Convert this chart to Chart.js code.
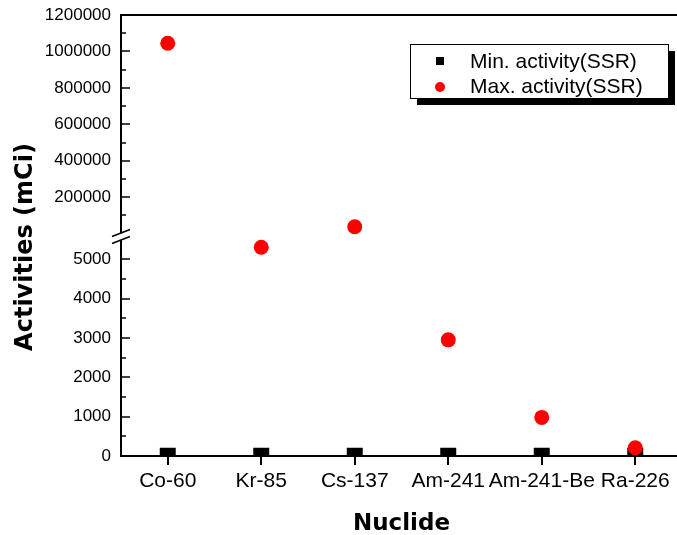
<!DOCTYPE html>
<html>
<head>
<meta charset="utf-8">
<title>Activities by nuclide</title>
<script src="https://cdn.jsdelivr.net/npm/chart.js@4/dist/chart.umd.min.js"></script>
<style>
    html, body { margin: 0; padding: 0; background: #fff; overflow: hidden; }
    #wrap { width: 700px; height: 535px; }
</style>
</head>
<body>
<div id="wrap"><canvas id="activityChart" width="700" height="535"></canvas></div>
<script>
// ==================== DATA ====================
const nuclides = ['Co-60', 'Kr-85', 'Cs-137', 'Am-241', 'Am-241-Be', 'Ra-226'];
const minActivity = [5, 5, 5, 5, 5, 5];
const maxActivity = [1045000, 5300, 38000, 2950, 980, 210];

// broken y axis: lower part 0..5600, upper part up to 1.2 million
const lowerMax = 5600;
const upperMin = -10000;
const upperMax = 1200000;
const lowerTicks = [0, 1000, 2000, 3000, 4000, 5000];
const lowerMinorTicks = [500, 1500, 2500, 3500, 4500];
const upperTicks = [200000, 400000, 600000, 800000, 1000000, 1200000];
const upperMinorTicks = [100000, 300000, 500000, 700000, 900000, 1100000];

const legendLabels = ['Min. activity(SSR)', 'Max. activity(SSR)'];

// split max series between the two axis parts
const maxLow = maxActivity.map(v => v <= lowerMax ? v : null);
const maxHigh = maxActivity.map(v => v > lowerMax ? v : null);

const yTickFont = { family: '"Liberation Sans", Arial, sans-serif', size: 17 };
const xTickFont = { family: '"Liberation Sans", Arial, sans-serif', size: 21 };
const titleFont = 'bold 24px "DejaVu Sans", Verdana, sans-serif';

// y scales: fixed width, no extra room for the end labels
function fitY(scale) {
    scale.width = 121;
    scale.paddingTop = 0;
    scale.paddingBottom = 0;
}

// ==================== PLUGIN: frame, inner ticks, break, legend ====================
const framePlugin = {
    id: 'frame',
    afterDraw(chart) {
        const ctx = chart.ctx;
        const area = chart.chartArea;
        ctx.save();
        ctx.strokeStyle = '#000';
        ctx.lineWidth = 2;

        // top and right border
        ctx.beginPath();
        ctx.moveTo(area.left - 1, area.top);
        ctx.lineTo(area.right, area.top);
        ctx.lineTo(area.right, area.bottom);
        ctx.stroke();

        // inward ticks on the y axis
        const drawTicks = (scale, values, len) => {
            values.forEach(v => {
                const y = Math.round(scale.getPixelForValue(v));
                ctx.beginPath();
                ctx.moveTo(area.left, y);
                ctx.lineTo(area.left + len, y);
                ctx.stroke();
            });
        };
        ctx.lineWidth = 1.5;
        drawTicks(chart.scales.yLow, lowerTicks, 9);
        drawTicks(chart.scales.yLow, lowerMinorTicks, 5);
        drawTicks(chart.scales.yHigh, upperTicks, 9);
        drawTicks(chart.scales.yHigh, upperMinorTicks, 5);

        // axis break marks
        const bx = area.left;
        const by = chart.scales.yLow.top;
        ctx.fillStyle = '#fff';
        ctx.beginPath();
        ctx.moveTo(bx - 9, by + 1);
        ctx.lineTo(bx + 9, by - 6);
        ctx.lineTo(bx + 9, by + 1);
        ctx.lineTo(bx - 9, by + 8);
        ctx.closePath();
        ctx.fill();
        ctx.lineWidth = 1.5;
        ctx.beginPath();
        ctx.moveTo(bx - 9, by + 1);
        ctx.lineTo(bx + 9, by - 6);
        ctx.moveTo(bx - 9, by + 8);
        ctx.lineTo(bx + 9, by + 1);
        ctx.stroke();

        // y title
        ctx.fillStyle = '#000';
        ctx.font = titleFont;
        ctx.textAlign = 'center';
        ctx.textBaseline = 'middle';
        ctx.translate(26, 247);
        ctx.rotate(-Math.PI / 2);
        ctx.fillText('Activities (mCi)', 0, 0);
        ctx.restore();

        // legend box with shadow
        ctx.save();
        const lx = 410, ly = 44, lw = 258, lh = 54;
        ctx.fillStyle = '#000';
        ctx.fillRect(lx + 7, ly + 7, lw, lh);
        ctx.fillStyle = '#fff';
        ctx.fillRect(lx, ly, lw, lh);
        ctx.strokeStyle = '#000';
        ctx.lineWidth = 1;
        ctx.strokeRect(lx + 0.5, ly + 0.5, lw, lh);

        ctx.fillStyle = '#000';
        ctx.fillRect(436, 57, 8, 8);
        ctx.fillStyle = '#ff0000';
        ctx.beginPath();
        ctx.arc(440, 87, 5, 0, Math.PI * 2);
        ctx.fill();

        ctx.fillStyle = '#000';
        ctx.font = '21px "Liberation Sans", Arial, sans-serif';
        ctx.textAlign = 'left';
        ctx.textBaseline = 'middle';
        ctx.fillText(legendLabels[0], 470, 62);
        ctx.fillText(legendLabels[1], 470, 87);
        ctx.restore();
    }
};

// ==================== CHART ====================
const ctx = document.getElementById('activityChart').getContext('2d');
const chart = new Chart(ctx, {
    type: 'line',
    data: {
        labels: nuclides,
        datasets: [
            {
                label: legendLabels[0], data: minActivity, yAxisID: 'yLow', order: 2,
                showLine: false, pointStyle: 'rect', pointRadius: 11.3, pointBorderWidth: 0,
                pointBackgroundColor: '#000', borderColor: '#000'
            },
            {
                label: legendLabels[1], data: maxLow, yAxisID: 'yLow', order: 1,
                showLine: false, pointStyle: 'circle', pointRadius: 7.5, pointBorderWidth: 0,
                pointBackgroundColor: '#ff0000', borderColor: '#ff0000'
            },
            {
                label: legendLabels[1], data: maxHigh, yAxisID: 'yHigh', order: 1,
                showLine: false, pointStyle: 'circle', pointRadius: 7.5, pointBorderWidth: 0,
                pointBackgroundColor: '#ff0000', borderColor: '#ff0000'
            }
        ]
    },
    options: {
        responsive: false,
        animation: false,
        layout: { padding: { top: 15, left: 0, right: 18, bottom: 0 } },
        plugins: { legend: { display: false }, tooltip: { enabled: false } },
        scales: {
            x: {
                offset: true,
                afterFit: s => { s.height = 79; },
                grid: { offset: false, drawOnChartArea: false, tickLength: 9, lineWidth: 2, color: '#000' },
                border: { color: '#000', width: 2 },
                ticks: { color: '#000', font: xTickFont, padding: 4, maxRotation: 0, autoSkip: false },
                title: { display: true, text: 'Nuclide', color: '#000', padding: { top: 0, bottom: -3 },
                    font: { family: '"DejaVu Sans", Verdana, sans-serif', size: 23, weight: 'bold' } }
            },
            // the first scale of a stack goes to the bottom
            yLow: {
                type: 'linear', position: 'left', stack: 'act', stackWeight: 1,
                min: 0, max: lowerMax,
                afterFit: fitY,
                afterBuildTicks: s => { s.ticks = lowerTicks.map(v => ({ value: v })); },
                grid: { display: false, drawTicks: false },
                border: { color: '#000', width: 2 },
                ticks: { color: '#000', font: yTickFont, padding: 10, callback: v => String(v) }
            },
            yHigh: {
                type: 'linear', position: 'left', stack: 'act', stackWeight: 1,
                min: upperMin, max: upperMax,
                afterFit: fitY,
                afterBuildTicks: s => { s.ticks = upperTicks.map(v => ({ value: v })); },
                grid: { display: false, drawTicks: false },
                border: { color: '#000', width: 2 },
                ticks: { color: '#000', font: yTickFont, padding: 10, callback: v => String(v) }
            }
        }
    },
    plugins: [framePlugin]
});
</script>
</body>
</html>
